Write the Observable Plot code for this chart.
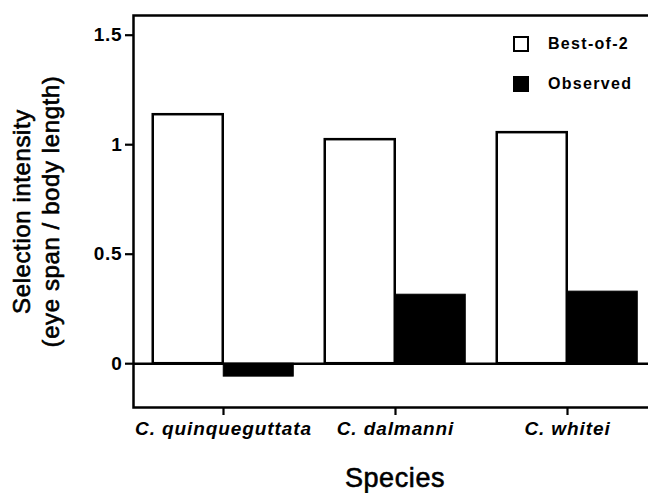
<!DOCTYPE html>
<html><head><meta charset="utf-8">
<script src="https://cdn.jsdelivr.net/npm/d3@7"></script>
<script src="https://cdn.jsdelivr.net/npm/@observablehq/plot@0.6"></script>
<style>
html,body{margin:0;padding:0;background:#fff;overflow:hidden;}
#wrap{position:relative;width:648px;height:493px;overflow:hidden;font-family:"Liberation Sans",Arial,sans-serif;}
#wrap svg{position:absolute;left:0;top:0;max-width:none !important;}
#wrap svg [aria-label^="x-axis"] text{font-style:italic;font-weight:bold;font-size:19px;letter-spacing:0.9px;}
#wrap svg [aria-label^="y-axis"] text{font-weight:bold;font-size:19px;letter-spacing:0.8px;}
#wrap svg [aria-label^="x-axis"] line,#wrap svg [aria-label^="x-axis"] path,
#wrap svg [aria-label^="y-axis"] line,#wrap svg [aria-label^="y-axis"] path{stroke-width:2.2px;}
#wrap svg .ttl text{letter-spacing:0.6px;}
#legend{position:absolute;left:513px;top:34px;}
.item{display:flex;align-items:center;height:20px;margin-bottom:20px;}
.sw{width:16px;height:16px;box-sizing:border-box;border:2.5px solid #000;margin-right:19px;}
.lab{font-weight:bold;font-size:16px;letter-spacing:1.3px;color:#000;}
</style></head><body><div id="wrap"></div>
<script>
const species = ["C. quinqueguttata", "C. dalmanni", "C. whitei"];
const series = ["Best-of-2", "Observed"];
const bestOf2 = [1.137, 1.023, 1.055];
const observed = [-0.059, 0.315, 0.329];
const yTicks = [0, 0.5, 1, 1.5];
const seriesFill = ["#fff", "#000"];

const W = 656, H = 493, ML = 133, MR = 0, MT = 15, MB = 86;
const padOuter = 0.016;
const step = (W - ML - MR) / (species.length + 2 * padOuter);
const half = step / 2;
const barW = 70.5;

const best = species.map((s, i) => ({species: s, series: series[0], value: bestOf2[i]}));
const obs = species.map((s, i) => ({species: s, series: series[1], value: observed[i]}));

const plot = Plot.plot({
  width: W, height: H,
  marginLeft: ML, marginRight: MR, marginTop: MT, marginBottom: MB,
  style: {fontFamily: '"Liberation Sans", Arial, sans-serif', color: "#000", background: "transparent", maxWidth: "none"},
  x: {domain: species, paddingInner: 0, paddingOuter: padOuter, label: null, tickSize: 8, tickPadding: 6},
  y: {domain: [-0.2, 1.59], ticks: yTicks, tickFormat: d => String(d), label: null, tickSize: 8, tickPadding: 3},
  marks: [
    Plot.barY(best, {x: "species", y: "value", fill: seriesFill[0], stroke: "#000", strokeWidth: 2.5,
      insetLeft: half - barW, insetRight: half}),
    Plot.barY(obs, {x: "species", y: "value", fill: seriesFill[1], stroke: "#000", strokeWidth: 1,
      insetLeft: half, insetRight: half - barW}),
    Plot.ruleY([0], {stroke: "#000", strokeWidth: 2.5}),
    Plot.frame({stroke: "#000", strokeWidth: 2.5}),
    Plot.text(["Selection intensity\n(eye span / body length)"], {frameAnchor: "left", textAnchor: "middle",
      lineAnchor: "middle", rotate: -90, dx: -98, lineHeight: 1.17, fontSize: 24, fontWeight: "normal", fill: "#000",
      stroke: "#000", strokeWidth: 0.6, className: "ttl"}),
    Plot.text(["Species"], {frameAnchor: "bottom", textAnchor: "middle", lineAnchor: "middle", dy: 71,
      fontSize: 27, fontWeight: "normal", fill: "#000", stroke: "#000", strokeWidth: 0.6, className: "ttl"})
  ]
});
document.getElementById("wrap").appendChild(plot);

const legend = document.createElement("div");
legend.id = "legend";
series.forEach((s, i) => {
  const it = document.createElement("div"); it.className = "item";
  const sw = document.createElement("span"); sw.className = "sw"; sw.style.background = seriesFill[i];
  const lab = document.createElement("span"); lab.className = "lab"; lab.textContent = s;
  it.appendChild(sw); it.appendChild(lab); legend.appendChild(it);
});
document.getElementById("wrap").appendChild(legend);
</script></body></html>
